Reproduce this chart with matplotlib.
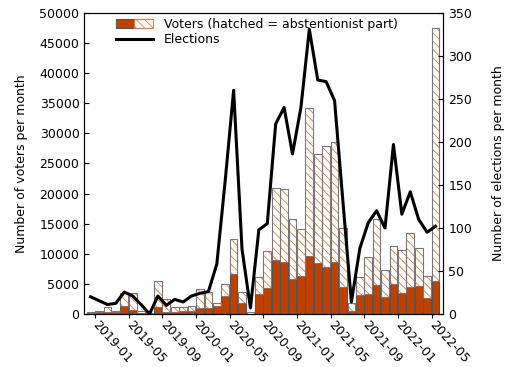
import numpy as np
import matplotlib
matplotlib.use('Agg')
import matplotlib.pyplot as plt
from matplotlib.patches import Patch
from matplotlib.lines import Line2D
from matplotlib.legend_handler import HandlerTuple

# Datos mensuales (2018-12 .. 2022-05)
voters_total = [350, 550, 1100, 500, 3500, 3500, 500, 100, 5500, 2450,
                1100, 1100, 1250, 4100, 3600, 1900, 4950, 12500, 3600, 250,
                6100, 10400, 21000, 20700, 15700, 14050, 34250, 26600, 27900, 28500,
                14300, 1770, 6100, 9400, 15700, 7300, 11300, 10600, 13400, 10900,
                6300, 47450]
voters_active = [200, 250, 400, 250, 1350, 600, 150, 50, 1100, 300,
                 400, 550, 580, 1000, 1000, 1400, 3050, 6600, 1880, 80,
                 3300, 4270, 8970, 8580, 5760, 6310, 9630, 8520, 7750, 8690,
                 4430, 550, 3160, 3320, 4820, 2880, 4980, 3430, 4540, 4650,
                 2600, 5480]
elections = [20, 15.5, 11, 12.5, 25.5, 21, 11, 0, 21, 10,
             17, 14, 21, 24, 26, 58, 155, 260, 75, 7,
             98, 105, 221, 240, 186, 240, 331, 272, 270, 248,
             130, 14, 76, 106, 120, 100, 197, 116, 142, 110,
             95, 102]
tick_labels = ['2019-01', '2019-05', '2019-09', '2020-01', '2020-05', '2020-09',
               '2021-01', '2021-05', '2021-09', '2022-01', '2022-05']

ORANGE = '#c04000'
EDGE = '#555555'

plt.rcParams['font.size'] = 9
plt.rcParams['hatch.linewidth'] = 0.6

x = np.arange(len(voters_total))
total = np.array(voters_total)
active = np.array(voters_active)
abst = total - active

fig = plt.figure(figsize=(5.08, 3.67), dpi=100)
ax = fig.add_axes([0.166, 0.1444, 0.707, 0.8206])

w = 0.92
ax.bar(x, active, width=w, color=ORANGE, edgecolor=EDGE, linewidth=0.8)
# parte abstencionista: primero el rayado, despues el borde gris
ax.bar(x, abst, bottom=active, width=w, facecolor='white', edgecolor='#e8773f',
       hatch='\\\\\\\\', linewidth=0)
ax.bar(x, abst, bottom=active, width=w, facecolor='none', edgecolor='#777777', linewidth=0.8)

ax.set_ylim(0, 50000)
ax.set_yticks(np.arange(0, 50001, 5000))
ax.set_xlim(-0.75, 41.95)
ax.set_xticks(np.arange(1, 42, 4) - 0.46)
ax.set_xticklabels(tick_labels, rotation=-48, ha='left', va='center',
                   rotation_mode='anchor')
ax.tick_params(axis='y', direction='in')
ax.tick_params(axis='x', direction='out', length=3, pad=3)
ax.set_ylabel('Number of voters per month', labelpad=8)

ax2 = ax.twinx()
ax2.plot(x, elections, color='black', linewidth=2.2)
ax2.set_ylim(0, 350)
ax2.set_yticks(np.arange(0, 351, 50))
ax2.tick_params(axis='y', direction='in')
ax2.set_ylabel('Number of elections per month', labelpad=14)

h_bar = (Patch(facecolor=ORANGE, edgecolor=EDGE, linewidth=0.8),
         Patch(facecolor='white', edgecolor='#e8773f', hatch='\\\\\\\\', linewidth=0.8))
h_line = Line2D([], [], color='black', linewidth=2.2)
ax.legend([h_bar, h_line], ['Voters (hatched = abstentionist part)', 'Elections'],
          handler_map={tuple: HandlerTuple(ndivide=None, pad=0)},
          loc='upper left', bbox_to_anchor=(0.075, 1.0), borderaxespad=0,
          frameon=False, handlelength=2.9, handletextpad=0.9, labelspacing=0.2)

fig.savefig('out.png', dpi=100)
